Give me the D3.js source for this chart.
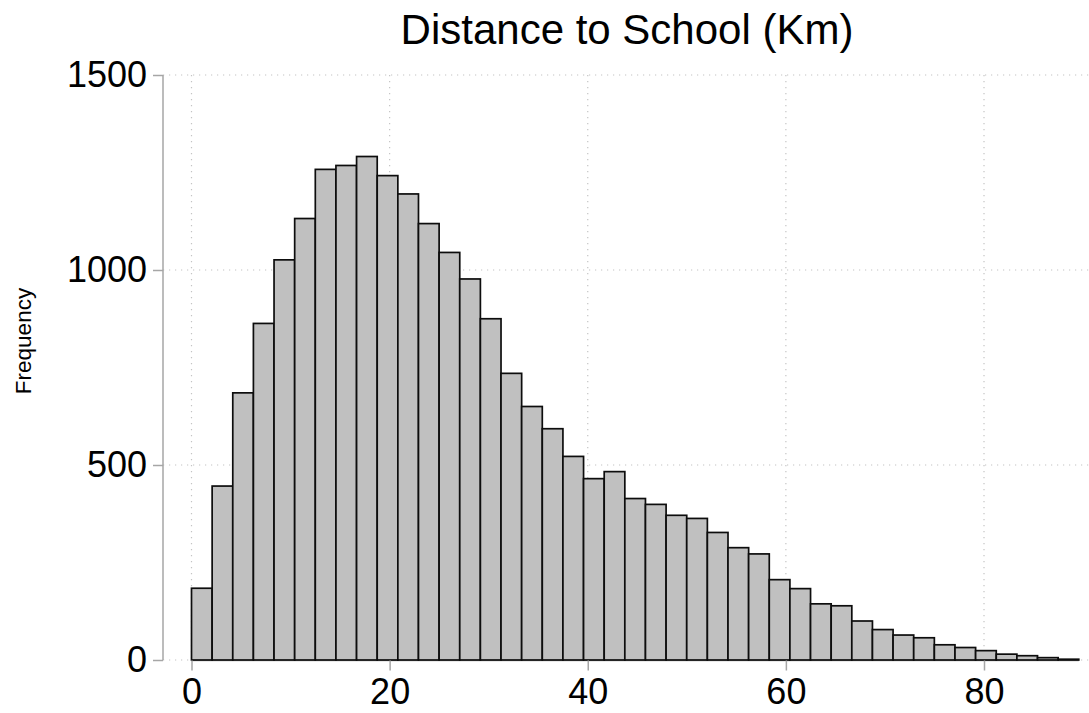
<!DOCTYPE html>
<html>
<head>
<meta charset="utf-8">
<script src="https://cdn.jsdelivr.net/npm/d3@7"></script>
<style>
  body { margin: 0; background: #fff; }
  text { font-family: "Liberation Sans", Arial, Helvetica, sans-serif; fill: #000; }
</style>
</head>
<body>
<svg width="1089" height="713"></svg>
<script>
// histogram of distance to school, 43 bins
var counts = [184, 446, 685, 863, 1026, 1132, 1258, 1268, 1291, 1242,
              1195, 1119, 1045, 977, 875, 735, 650, 593, 522, 465,
              483, 414, 399, 371, 363, 327, 288, 272, 206, 183,
              144, 139, 100, 78, 64, 57, 39, 32, 24, 15,
              11, 6, 2];
var binStart = 0, binWidth = 2.083;
var xTicks = [0, 20, 40, 60, 80];
var yTicks = [0, 500, 1000, 1500];
var title = "Distance to School (Km)";
var yLabel = "Frequency";

var svg = d3.select("svg"),
    width = +svg.attr("width"),
    height = +svg.attr("height");

var x = d3.scaleLinear().domain([0, 80]).range([191.5, 984]);
var y = d3.scaleLinear().domain([0, 1500]).range([660, 75]);

var plotLeft = 163, plotRight = 1089;
var axisColor = "#a6a6a6";

var bins = counts.map(function(c, i) {
    return {x0: binStart + i * binWidth, x1: binStart + (i + 1) * binWidth, n: c};
});

// grid lines
svg.append("g")
    .selectAll("line")
    .data(yTicks.filter(function(d) { return d > 0; }))
    .enter().append("line")
    .attr("x1", plotLeft).attr("x2", plotRight)
    .attr("y1", function(d) { return y(d); })
    .attr("y2", function(d) { return y(d); })
    .attr("stroke", "#c4c4c4")
    .attr("stroke-width", 1.2)
    .attr("stroke-dasharray", "1.2,4.8");

svg.append("g")
    .selectAll("line")
    .data(xTicks)
    .enter().append("line")
    .attr("x1", function(d) { return x(d); })
    .attr("x2", function(d) { return x(d); })
    .attr("y1", y(1500)).attr("y2", y(0))
    .attr("stroke", "#c4c4c4")
    .attr("stroke-width", 1.2)
    .attr("stroke-dasharray", "1.2,4.8");

// zero line dotted between y axis and first bar
svg.append("line")
    .attr("x1", plotLeft).attr("x2", plotRight)
    .attr("y1", y(0)).attr("y2", y(0))
    .attr("stroke", "#c4c4c4")
    .attr("stroke-width", 1.2)
    .attr("stroke-dasharray", "1.2,4.8");

// x axis line over the data range
svg.append("line")
    .attr("x1", x(bins[0].x0)).attr("x2", x(bins[bins.length - 1].x1))
    .attr("y1", y(0) + 0.5).attr("y2", y(0) + 0.5)
    .attr("stroke", axisColor)
    .attr("stroke-width", 1.5);

// bars
svg.append("g")
    .selectAll("rect")
    .data(bins)
    .enter().append("rect")
    .attr("x", function(b) { return x(b.x0); })
    .attr("width", function(b) { return x(b.x1) - x(b.x0); })
    .attr("y", function(b) { return y(b.n); })
    .attr("height", function(b) { return y(0) - y(b.n); })
    .attr("fill", "#c0c0c0")
    .attr("stroke", "#0d0d0d")
    .attr("stroke-width", 1.7);

// y axis
var yAxis = svg.append("g")
    .attr("transform", "translate(" + plotLeft + ",0)")
    .call(d3.axisLeft(y).tickValues(yTicks).tickSize(10).tickPadding(6).tickFormat(d3.format("d")));
yAxis.select(".domain").attr("stroke", axisColor).attr("stroke-width", 1.5).attr("d", "M0," + y(1500) + "V" + y(0));
yAxis.selectAll(".tick line").attr("stroke", axisColor).attr("stroke-width", 1.5);
yAxis.selectAll(".tick text")
    .style("font-family", "'Liberation Sans', Arial, sans-serif")
    .style("font-size", "36px")
    .attr("fill", "#000");

// x axis ticks and labels
var xAxis = svg.append("g")
    .attr("transform", "translate(0," + (y(0) + 0.5) + ")")
    .call(d3.axisBottom(x).tickValues(xTicks).tickSize(10).tickPadding(8).tickFormat(d3.format("d")));
xAxis.select(".domain").remove();
xAxis.selectAll(".tick line").attr("stroke", axisColor).attr("stroke-width", 1.5);
xAxis.selectAll(".tick text")
    .style("font-family", "'Liberation Sans', Arial, sans-serif")
    .style("font-size", "36px")
    .attr("fill", "#000");

// title
svg.append("text")
    .attr("x", 627)
    .attr("y", 44)
    .attr("text-anchor", "middle")
    .style("font-size", "42px")
    .text(title);

// y label
svg.append("text")
    .attr("transform", "translate(31,341) rotate(-90)")
    .attr("text-anchor", "middle")
    .style("font-size", "22.5px")
    .text(yLabel);
</script>
</body>
</html>
